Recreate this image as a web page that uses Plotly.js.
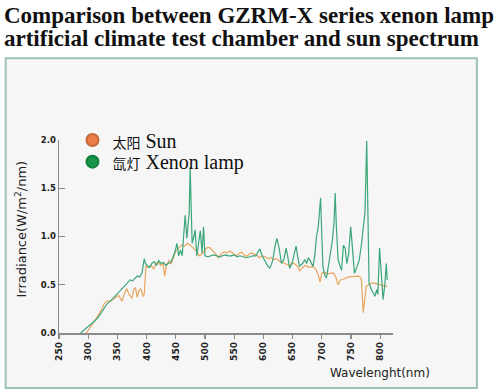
<!DOCTYPE html>
<html><head><meta charset="utf-8">
<script src="https://cdn.plot.ly/plotly-3.0.1.min.js"></script>
<style>html,body{margin:0;padding:0;background:#fff;}#chart{width:500px;height:390px;}</style>
</head><body><div id="chart"></div>
<script>
const sunWavelength = [
 297,305,312,318,324,328,332,338,345,352,
 358,362,366,370,375,378,381,384,387,390,
 394,396,399,403,408,412,416,420,424,428,
 431,434,438,442,446,450,455,460,465,470,
 475,480,486,490,495,500,505,509,514,518,
 523,528,533,538,543,548,553,558,563,568,
 573,578,583,588,593,598,603,608,613,618,
 623,628,633,638,645,650,655,660,662,667,
 672,678,685,690,694,697,700,705,710,715,
 720,724,728,732,738,745,753,760,765,768,
 771,773,776,780,787,795,805,812];
const sunIrradiance = [
 0,0.07,0.13,0.19,0.26,0.31,0.33,0.33,0.36,0.39,
 0.33,0.41,0.46,0.40,0.36,0.45,0.47,0.37,0.44,0.46,
 0.38,0.40,0.69,0.68,0.70,0.66,0.72,0.74,0.70,0.73,
 0.59,0.70,0.75,0.72,0.78,0.85,0.88,0.91,0.90,0.93,
 0.91,0.88,0.84,0.80,0.82,0.86,0.89,0.88,0.85,0.82,
 0.78,0.82,0.84,0.83,0.85,0.82,0.80,0.82,0.84,0.80,
 0.80,0.83,0.82,0.81,0.78,0.80,0.79,0.77,0.78,0.76,
 0.77,0.74,0.73,0.72,0.70,0.73,0.71,0.68,0.64,0.68,
 0.70,0.68,0.69,0.66,0.60,0.53,0.62,0.63,0.61,0.62,
 0.62,0.58,0.50,0.55,0.56,0.58,0.585,0.59,0.585,0.55,
 0.21,0.30,0.48,0.50,0.52,0.51,0.49,0.48];
const xenonWavelength = [
 287,295,305,312,318,325,332,338,344,350,
 356,362,368,372,376,380,384,388,392,396,
 398,401,405,409,413,417,421,425,429,433,
 437,441,445,449,452,455,458,461,463,466,
 469,471,473,474.6,476,478,481,483,486,489,
 492,495,497.5,500,505,510,515,520,525,530,
 535,540,545,550,555,560,565,570,577,582,
 587,591,594,598,603,607,611,616,620,623,
 627,631,635,639,642,645,649,652,656,659,
 662,667,671,674,677,680,685,688,691,694,
 698,700,702,705,708,711,715,718,721,723,
 725,728,731,734,737,740,743,746,749.6,753,
 756,760,764,768,771,774,777,779,781,785,
 788,791,794,796,799,802,805,808,810.5,812];
const xenonIrradiance = [
 0,0.04,0.09,0.13,0.17,0.24,0.30,0.33,0.37,0.41,
 0.45,0.49,0.53,0.55,0.54,0.57,0.59,0.58,0.62,0.77,
 0.72,0.70,0.68,0.72,0.74,0.70,0.75,0.72,0.73,0.70,
 0.72,0.73,0.78,0.85,0.93,0.80,0.86,0.80,0.95,1.22,
 0.98,1.10,1.25,1.72,1.40,0.93,1.00,1.07,0.80,0.95,
 1.06,0.83,1.10,0.80,0.79,0.80,0.81,0.80,0.79,0.80,
 0.81,0.80,0.80,0.81,0.79,0.80,0.79,0.78,0.79,0.80,
 0.80,0.84,0.87,0.80,0.74,0.70,0.67,0.75,0.90,0.98,
 0.88,0.72,0.76,0.88,0.78,0.67,0.72,0.80,0.90,0.78,
 0.69,0.72,0.76,0.72,0.78,0.75,0.69,0.80,1.00,1.10,
 1.40,1.02,0.69,0.60,0.57,0.68,0.83,0.95,1.15,1.45,
 1.10,0.76,0.70,0.65,0.91,0.88,0.72,0.82,1.10,0.80,
 0.62,0.68,0.75,0.92,1.10,1.25,1.99,1.10,0.52,0.45,
 0.42,0.38,0.45,0.40,0.88,0.60,0.345,0.50,0.72,0.55];
const xTicks = [250,300,350,400,450,500,550,600,650,700,750,800];
const yTicks = [0,0.5,1.0,1.5,2.0];
const yTickText = ['0.0','0.5','1.0','1.5','2.0'];
const seriesNamesZh = ['太阳','氙灯'];
const seriesNamesEn = ['Sun','Xenon lamp'];
const titleLines = ['Comparison between GZRM-X series xenon lamp','artificial climate test chamber and sun spectrum'];

const L = 58.5, R = 393.4, T = 140, B = 333.3;
const W = R - L, H = B - T;
const px = v => (v - L) / W;
const py = v => (B - v) / H;
const legName = i => '<span style="font-size:14px">' + seriesNamesZh[i] + '</span> ' + seriesNamesEn[i];

const traces = [
 {x: sunWavelength, y: sunIrradiance, mode:'lines', line:{color:'#e9a55e', width:1.2}, showlegend:false, hoverinfo:'skip'},
 {x: xenonWavelength, y: xenonIrradiance, mode:'lines', line:{color:'#3aa67a', width:1.2}, showlegend:false, hoverinfo:'skip'},
 {x:[null], y:[null], mode:'markers', name: legName(0), legend:'legend', marker:{color:'#ea7f4a', size:12, line:{color:'#c8683a', width:1}}},
 {x:[null], y:[null], mode:'markers', name: legName(1), legend:'legend2', marker:{color:'#17964a', size:12, line:{color:'#11803c', width:1}}}
];

const legFont = {family:'Liberation Serif, "Noto Sans CJK SC", serif', size:20, color:'#111'};
const layout = {
 width:500, height:390,
 margin:{l:L, r:500-R, t:T, b:390-B, pad:0},
 paper_bgcolor:'#ffffff', plot_bgcolor:'rgba(0,0,0,0)',
 showlegend:true,
 legend:{x:px(72), y:py(140), xanchor:'left', yanchor:'middle', bgcolor:'rgba(0,0,0,0)', font:legFont, itemsizing:'constant'},
 legend2:{x:px(72), y:py(161.7), xanchor:'left', yanchor:'middle', bgcolor:'rgba(0,0,0,0)', font:legFont, itemsizing:'constant'},
 xaxis:{range:[250,822], tickvals:xTicks, ticktext:xTicks.map(String), tickangle:-90,
   showgrid:false, zeroline:false, showline:true, linecolor:'#8a8a8a', linewidth:1.5,
   ticks:'outside', ticklen:4, tickcolor:'#8a8a8a', tickwidth:1.2,
   tickfont:{family:'DejaVu Sans, sans-serif', size:9, color:'#222', weight:'bold'}},
 yaxis:{range:[0,2.0], tickvals:yTicks, ticktext:yTickText,
   showgrid:false, zeroline:false, showline:true, linecolor:'#8a8a8a', linewidth:1.5,
   ticks:'inside', ticklen:6, tickcolor:'#8a8a8a', tickwidth:1.2,
   tickfont:{family:'DejaVu Sans, sans-serif', size:8.5, color:'#222', weight:'bold'}},
 shapes:[
  {type:'rect', xref:'paper', yref:'paper', x0:px(5), x1:px(477.5), y0:py(388.5), y1:py(58),
   fillcolor:'#f6f6f6', line:{color:'#9dc1b5', width:2}, layer:'below'}
 ],
 annotations:[
  {xref:'paper', yref:'paper', x:px(1), y:py(15), xanchor:'left', yanchor:'middle', showarrow:false,
   text:'<b>'+titleLines[0]+'</b>', font:{family:'Liberation Serif, serif', size:23, color:'#111'}},
  {xref:'paper', yref:'paper', x:px(1), y:py(38.5), xanchor:'left', yanchor:'middle', showarrow:false,
   text:'<b>'+titleLines[1]+'</b>', font:{family:'Liberation Serif, serif', size:23, color:'#111'}},
  {xref:'paper', yref:'paper', x:px(20), y:py(229), xanchor:'center', yanchor:'middle', showarrow:false, textangle:-90,
   text:'Irradiance(W/m<sup>2</sup>/nm)', font:{family:'DejaVu Sans, sans-serif', size:13, color:'#222'}},
  {xref:'paper', yref:'paper', x:px(380), y:py(373), xanchor:'center', yanchor:'middle', showarrow:false,
   text:'Wavelenght(nm)', font:{family:'DejaVu Sans, sans-serif', size:12, color:'#222'}}
 ]
};
Plotly.newPlot('chart', traces, layout, {displayModeBar:false, staticPlot:true});
</script></body></html>
